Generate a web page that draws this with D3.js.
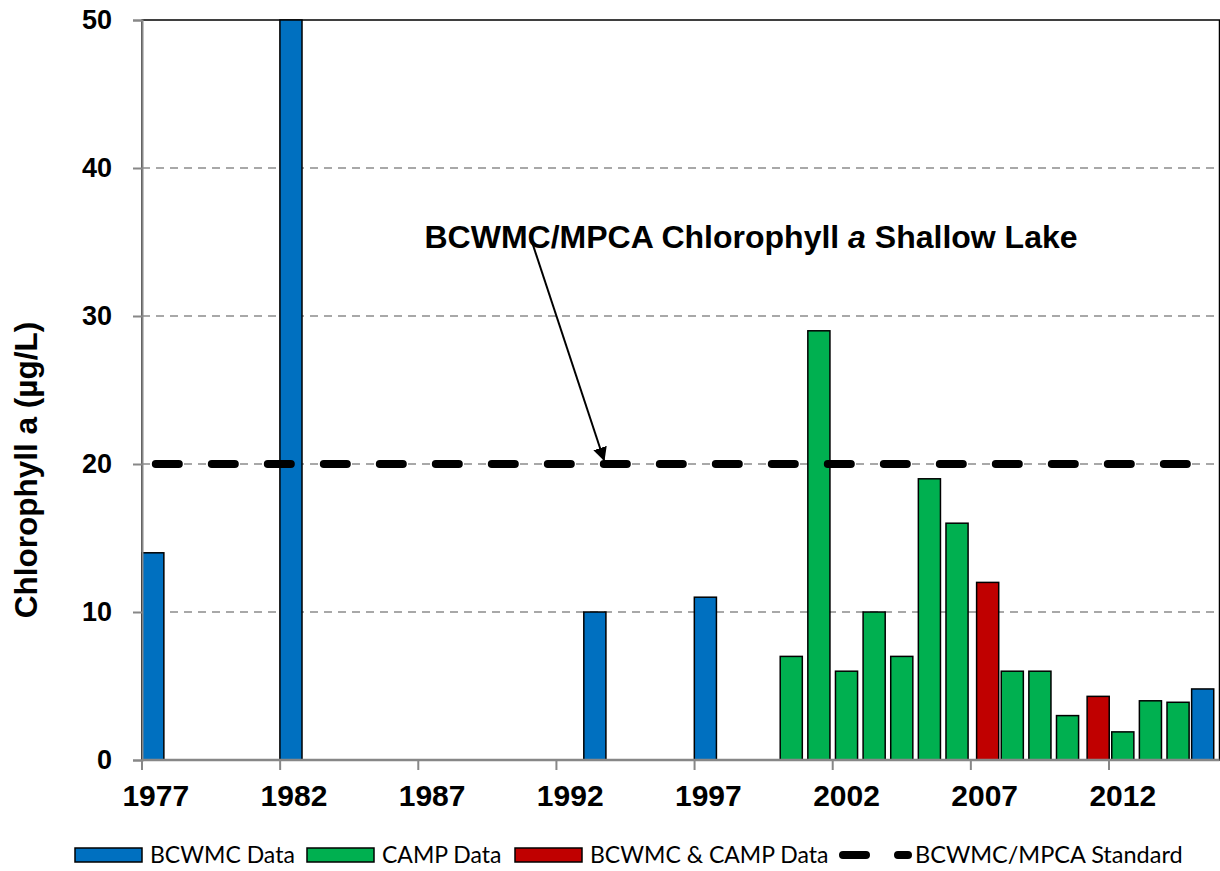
<!DOCTYPE html>
<html>
<head>
<meta charset="utf-8">
<script src="https://cdn.jsdelivr.net/npm/d3@7"></script>
<style>
  body { margin: 0; background: #fff; }
  svg { display: block; }
</style>
</head>
<body>
<div id="chart"></div>
<script>
// categories: one per year
const years = d3.range(1977, 2016).map(String);
const tickYears = ["1977", "1982", "1987", "1992", "1997", "2002", "2007", "2012"];
const yTicks = [0, 10, 20, 30, 40, 50];

// series values (year -> chlorophyll a, ug/L)
const bcwmcYears = ["1977", "1982", "1993", "1997", "2015"];
const bcwmcValues = [14, 50, 10, 11, 4.8];
const campYears = ["2000", "2001", "2002", "2003", "2004", "2005", "2006", "2008", "2009", "2010", "2012", "2013", "2014"];
const campValues = [7, 29, 6, 10, 7, 19, 16, 6, 6, 3, 1.9, 4, 3.9];
const bothYears = ["2007", "2011"];
const bothValues = [12, 4.3];
const standardValue = 20;

const series = [
  { name: "BCWMC Data", years: bcwmcYears, values: bcwmcValues, color: "#0070C0", shift: -3 },
  { name: "CAMP Data", years: campYears, values: campValues, color: "#00B050", shift: 0 },
  { name: "BCWMC & CAMP Data", years: bothYears, values: bothValues, color: "#C00000", shift: 3 }
];

const W = 1220, H = 871;
const pLeft = 142, pRight = 1219.5, pTop = 20, pBottom = 760;

const svg = d3.select("#chart").append("svg")
  .attr("width", W)
  .attr("height", H);

svg.append("rect").attr("width", W).attr("height", H).attr("fill", "#fff");

const x = d3.scaleBand().domain(years).range([pLeft, pRight]).padding(0);
const y = d3.scaleLinear().domain([0, 50]).range([pBottom, pTop]);
const bw = x.bandwidth() * 0.8;

// gridlines
svg.append("g")
  .selectAll("line")
  .data(yTicks.filter(d => d > 0 && d < 50))
  .enter().append("line")
    .attr("x1", pLeft).attr("x2", pRight)
    .attr("y1", d => y(d)).attr("y2", d => y(d))
    .attr("stroke", "#8c8c8c")
    .attr("stroke-width", 1.5)
    .attr("stroke-dasharray", "8,6");

// plot border (top/right black)
svg.append("rect")
  .attr("x", pLeft).attr("y", pTop)
  .attr("width", pRight - pLeft).attr("height", pBottom - pTop)
  .attr("fill", "none")
  .attr("stroke", "#000")
  .attr("stroke-width", 1.5);

// bars
series.forEach(s => {
  svg.append("g")
    .selectAll("rect")
    .data(s.years.map((yr, i) => ({ yr, v: s.values[i] })))
    .enter().append("rect")
      .attr("x", d => x(d.yr) + (x.bandwidth() - bw) / 2 + s.shift)
      .attr("y", d => y(d.v))
      .attr("width", bw)
      .attr("height", d => y(0) - y(d.v))
      .attr("fill", s.color)
      .attr("stroke", "#000")
      .attr("stroke-width", 1.5);
});

// standard line
const line = d3.line().x(d => x(d) + x.bandwidth() / 2).y(() => y(standardValue));
svg.append("path")
  .attr("d", line([years[0], years[years.length - 1]]))
  .attr("fill", "none")
  .attr("stroke", "#000")
  .attr("stroke-width", 8)
  .attr("stroke-linecap", "round")
  .attr("stroke-dasharray", "23,33");

// y axis
const yAxis = svg.append("g")
  .attr("transform", `translate(${pLeft},0)`)
  .call(d3.axisLeft(y).tickValues(yTicks).tickSize(9).tickPadding(21));
yAxis.select(".domain").attr("stroke", "#878787").attr("stroke-width", 2);
yAxis.selectAll(".tick line").attr("stroke", "#878787").attr("stroke-width", 2);
yAxis.selectAll(".tick text")
  .attr("font-family", "Liberation Sans, Arial, sans-serif")
  .attr("font-size", 27).attr("font-weight", "bold").attr("fill", "#000");

// x axis: ticks at category boundaries, labels at category centres
const xg = svg.append("g").attr("transform", `translate(0,${pBottom})`);
xg.append("line")
  .attr("x1", pLeft).attr("x2", pRight)
  .attr("stroke", "#878787").attr("stroke-width", 2.5);
xg.selectAll(".tk")
  .data(tickYears)
  .enter().append("line")
    .attr("x1", d => x(d)).attr("x2", d => x(d))
    .attr("y1", 0).attr("y2", 10)
    .attr("stroke", "#878787").attr("stroke-width", 2);
xg.selectAll(".lb")
  .data(tickYears)
  .enter().append("text")
    .attr("x", d => x(d) + x.bandwidth() / 2)
    .attr("y", 46)
    .attr("text-anchor", "middle")
    .attr("font-family", "Liberation Sans, Arial, sans-serif")
    .attr("font-size", 30).attr("font-weight", "bold")
    .text(d => d);

// y label
svg.append("text")
  .attr("transform", "translate(37,470) rotate(-90)")
  .attr("text-anchor", "middle")
  .attr("font-family", "Liberation Sans, Arial, sans-serif")
  .attr("font-size", 31.5).attr("font-weight", "bold")
  .text("Chlorophyll a (µg/L)");

// annotation
const ann = svg.append("text")
  .attr("x", 751).attr("y", 248)
  .attr("text-anchor", "middle")
  .attr("font-family", "Liberation Sans, Arial, sans-serif")
  .attr("font-size", 32).attr("font-weight", "bold");
ann.append("tspan").text("BCWMC/MPCA Chlorophyll ");
ann.append("tspan").attr("font-style", "italic").text("a");
ann.append("tspan").text(" Shallow Lake");

svg.append("defs").append("marker")
  .attr("id", "arr")
  .attr("viewBox", "0 0 10 10")
  .attr("refX", 9).attr("refY", 5)
  .attr("markerWidth", 7).attr("markerHeight", 7)
  .attr("markerUnits", "strokeWidth")
  .attr("orient", "auto")
  .append("path").attr("d", "M0,0L10,5L0,10Z").attr("fill", "#000");

svg.append("line")
  .attr("x1", 532).attr("y1", 242)
  .attr("x2", 604).attr("y2", 460)
  .attr("stroke", "#000").attr("stroke-width", 2)
  .attr("marker-end", "url(#arr)");

// legend
const legFont = "Lato, 'Noto Sans', sans-serif";
const legY = 855;
const legItems = [
  { x: 75, s: series[0] },
  { x: 307, s: series[1] },
  { x: 515, s: series[2] }
];
legItems.forEach(it => {
  svg.append("rect")
    .attr("x", it.x).attr("y", legY - 7)
    .attr("width", 67).attr("height", 14)
    .attr("fill", it.s.color).attr("stroke", "#000").attr("stroke-width", 1.5);
  svg.append("text")
    .attr("x", it.x + 75).attr("y", legY + 8)
    .attr("font-family", legFont).attr("font-size", 23)
    .text(it.s.name);
});
svg.append("path")
  .attr("d", "M843,855L866,855M898,855L908,855")
  .attr("stroke", "#000").attr("stroke-width", 8).attr("stroke-linecap", "round");
svg.append("text")
  .attr("x", 915).attr("y", legY + 8)
  .attr("font-family", legFont).attr("font-size", 23.5)
  .text("BCWMC/MPCA Standard");
</script>
</body>
</html>
